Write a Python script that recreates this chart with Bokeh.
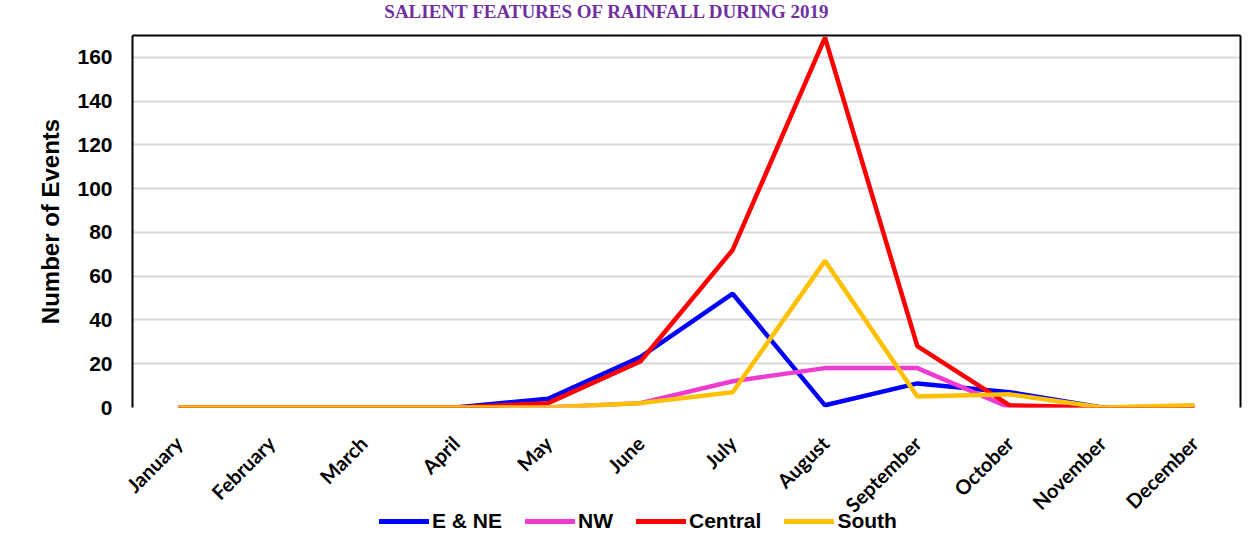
import math
from bokeh.plotting import figure
from bokeh.layouts import column
from bokeh.models import (FactorRange, Range1d, FixedTicker, LinearAxis, CategoricalAxis,
                          Legend, LegendItem)
from bokeh.core.properties import value
from bokeh.embed import file_html
from bokeh.resources import INLINE

months = ["January", "February", "March", "April", "May", "June", "July",
          "August", "September", "October", "November", "December"]
e_ne = [0, 0, 0, 0, 4, 23, 52, 1, 11, 7, 0, 0]
nw = [0, 0, 0, 0, 0, 2, 12, 18, 18, 0, 0, 0]
central = [0, 0, 0, 0, 2, 21, 72, 169, 28, 1, 0, 0.5]
south = [0, 0, 0, 0, 0, 2, 7, 67, 5, 6, 0, 1]
series_names = ["E & NE", "NW", "Central", "South"]
series_colors = ["#0000FF", "#EE3BD0", "#FF0000", "#FFC000"]
y_ticks = [0, 20, 40, 60, 80, 100, 120, 140, 160]
title_text = "SALIENT FEATURES OF RAINFALL DURING 2019"

W = 1256
H0, H1, H2 = 20, 510, 40
OVERLAP = 22
FL, FR = 132, 16  # frame borders (left / right)

# --- title strip ---
p0 = figure(width=W, height=H0, x_range=Range1d(FL, W - FR), y_range=Range1d(0, H0),
            output_backend="svg", toolbar_location=None, min_border=0,
            min_border_left=FL, min_border_right=FR,
            x_axis_type=None, y_axis_type=None)
p0.outline_line_color = None
p0.grid.visible = False
p0.text(x=[607], y=[H0], text=[title_text], text_font=value("Liberation Serif"),
        text_font_style="bold", text_font_size="19px", text_color="#7030A0",
        text_align="center", text_baseline="top")

# --- main chart ---
p = figure(width=W, height=H1, x_range=FactorRange(*months), y_range=Range1d(0, 170),
           output_backend="svg", toolbar_location=None,
           min_border_left=FL, min_border_right=FR, min_border_top=15, min_border_bottom=123)
p.outline_line_color = None
p.background_fill_color = "white"
p.border_fill_color = "white"

p.yaxis.ticker = FixedTicker(ticks=y_ticks)
p.yaxis.axis_line_color = "black"
p.yaxis.axis_line_width = 2
p.yaxis.major_tick_line_color = None
p.yaxis.minor_tick_line_color = None
p.yaxis.major_label_text_font = "Liberation Sans"
p.yaxis.major_label_text_font_style = "bold"
p.yaxis.major_label_text_font_size = "21px"
p.yaxis.major_label_text_color = "black"
p.yaxis.major_label_standoff = 14
p.yaxis.axis_label = "Number of Events"
p.yaxis.axis_label_text_font = "Liberation Sans"
p.yaxis.axis_label_text_font_style = "bold"
p.yaxis.axis_label_text_font_size = "24px"
p.yaxis.axis_label_text_color = "black"
p.yaxis.axis_label_standoff = 10

p.xaxis.axis_line_color = None
p.xaxis.major_tick_line_color = None
p.xaxis.major_label_orientation = math.pi / 4
p.xaxis.major_label_text_font = "Lato"
p.xaxis.major_label_text_font_style = "bold"
p.xaxis.major_label_text_font_size = "20px"
p.xaxis.major_label_text_color = "black"
p.xaxis.major_label_standoff = 26

p.xgrid.grid_line_color = None
p.ygrid.ticker = FixedTicker(ticks=y_ticks)
p.ygrid.grid_line_color = "#d9d9d9"
p.ygrid.grid_line_width = 2

right_ax = LinearAxis(major_tick_line_color=None, minor_tick_line_color=None,
                      major_label_text_font_size="0px", axis_line_width=2,
                      major_label_standoff=0)
right_ax.ticker = FixedTicker(ticks=[])
p.add_layout(right_ax, "right")
top_ax = CategoricalAxis(major_tick_line_color=None, major_label_text_font_size="0px",
                         axis_line_width=2, major_label_standoff=0)
p.add_layout(top_ax, "above")

for vals, col in zip([e_ne, nw, central, south], series_colors):
    p.line(months, vals, line_color=col, line_width=4.5)

# --- legend strip (transparent, slightly overlapping the bottom of the chart) ---
p2 = figure(width=W, height=H2, x_range=Range1d(0, 1), y_range=Range1d(0, 1),
            output_backend="svg", toolbar_location=None, min_border=0,
            min_border_left=FL, min_border_right=FR,
            x_axis_type=None, y_axis_type=None, margin=(-OVERLAP, 0, 0, 0))
p2.outline_line_color = None
p2.background_fill_alpha = 0
p2.border_fill_alpha = 0
p2.grid.visible = False
leg_renderers = [p2.line(x=[-5, -4], y=[-5, -4], line_color=c, line_width=5, line_cap="round")
                 for c in series_colors]
legend = Legend(items=[LegendItem(label=n, renderers=[r]) for n, r in zip(series_names, leg_renderers)],
                orientation="horizontal", location=(379 - FL, 15),
                label_text_font="Liberation Sans", label_text_font_style="bold",
                label_text_font_size="21px", label_text_color="black",
                glyph_width=50, glyph_height=22, label_standoff=3, spacing=23,
                padding=0, margin=0, border_line_color=None, background_fill_alpha=0)
p2.add_layout(legend, "center")

layout = column(p0, p, p2, spacing=0)
open("out.html", "w").write(file_html(layout, INLINE))
